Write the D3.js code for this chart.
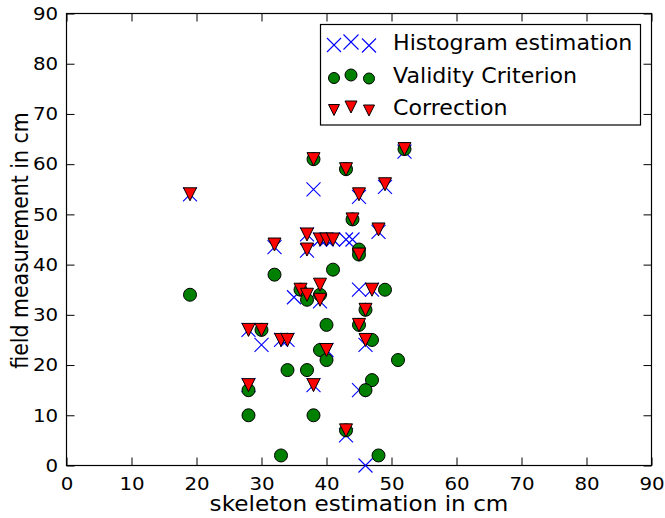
<!DOCTYPE html>
<html>
<head>
<meta charset="utf-8">
<script src="https://cdn.jsdelivr.net/npm/d3@7"></script>
<style>
  html, body { margin: 0; padding: 0; background: #fff; }
  svg { display: block; }
  text { font-family: "DejaVu Sans", sans-serif; fill: #000; }
</style>
</head>
<body>
<svg id="chart" width="665" height="518"></svg>
<script>
// ---- Data ----
const xTicks = [0, 10, 20, 30, 40, 50, 60, 70, 80, 90];
const yTicks = [0, 10, 20, 30, 40, 50, 60, 70, 80, 90];

// Histogram estimation (blue x)
const histX = [19, 28, 30, 33, 34, 28, 38, 43, 40, 46, 45, 47, 45, 46, 38, 45, 49, 52, 48, 32, 37, 37, 39, 40, 41, 43, 44, 35, 39];
const histY = [54, 27, 24, 25, 25, 16, 16, 6, 23, 24, 35, 35, 15, 0, 55, 53.5, 55.5, 62.5, 46.5, 43.5, 46, 42.8, 45, 45, 45, 45, 45, 33.5, 32.7];

// Validity Criterion (green circles)
const validX = [19, 28, 30, 28, 33, 34, 37, 38, 39, 40, 40, 43, 45, 46, 47, 51, 47, 46, 48, 49, 32, 41, 45, 45, 36, 37, 39, 44, 43, 38, 52];
const validY = [34, 15, 27, 10, 2, 19, 19, 10, 23, 21, 28, 7, 28, 31, 25, 21, 17, 15, 2, 35, 38, 39, 43, 42, 35, 33, 34, 49, 59, 61, 63];

// Correction (red triangles)
const corrX = [19, 28, 30, 33, 34, 28, 38, 43, 40, 45, 46, 46, 38, 43, 45, 49, 52, 44, 48, 32, 37, 37, 39, 40, 41, 45, 36, 37, 39, 39, 47];
const corrY = [54, 27, 27, 25, 25, 16, 16, 7, 23, 28, 31, 25, 61, 59, 54, 56, 63, 49, 47, 44, 46, 43, 45, 45, 45, 42, 35, 34, 36, 33, 35];

const legendLabels = ["Histogram estimation", "Validity Criterion", "Correction"];
const xLabel = "skeleton estimation in cm";
const yLabel = "field measurement in cm";

// ---- Layout ----
const svg = d3.select("#chart");
const L = 66.5, R = 651.5, T = 13.5, B = 465.5;
const SX = 1.1; // horizontal stretch of the reference glyphs

const x = d3.scaleLinear().domain([0, 90]).range([L, R]);
const y = d3.scaleLinear().domain([0, 90]).range([B, T]);

const tickFont = "18px";

// Axes (ticks inward)
const gB = svg.append("g").attr("transform", `translate(0,${B})`)
  .call(d3.axisBottom(x).tickValues(xTicks).tickSizeInner(-8).tickSizeOuter(0).tickPadding(11.5));
const gT = svg.append("g").attr("transform", `translate(0,${T})`)
  .call(d3.axisTop(x).tickValues(xTicks).tickSizeInner(-8).tickSizeOuter(0).tickFormat(""));
const gL = svg.append("g").attr("transform", `translate(${L},0)`)
  .call(d3.axisLeft(y).tickValues(yTicks).tickSizeInner(-8).tickSizeOuter(0).tickPadding(7.6));
const gR = svg.append("g").attr("transform", `translate(${R},0)`)
  .call(d3.axisRight(y).tickValues(yTicks).tickSizeInner(-8).tickSizeOuter(0).tickFormat(""));

[gB, gT, gL, gR].forEach(g => {
  g.select(".domain").remove();
  g.selectAll(".tick line").attr("stroke", "#000").attr("stroke-width", 1);
  g.selectAll(".tick text").style("font-family", "DejaVu Sans").style("font-size", tickFont)
    .attr("fill", "#000").attr("transform", `scale(${SX},1)`);
});

// Frame
svg.append("rect").attr("x", L).attr("y", T).attr("width", R - L).attr("height", B - T)
  .attr("fill", "none").attr("stroke", "#000").attr("stroke-width", 1.2);

// ---- Marks ----
const plot = svg.append("g");
const xs = 7; // half-size of x marker
const histData = histX.map((v, i) => ({x: v, y: histY[i]}));
const validData = validX.map((v, i) => ({x: v, y: validY[i]}));
const corrData = corrX.map((v, i) => ({x: v, y: corrY[i]}));

function xPath(h) { return `M${-h},${-h}L${h},${h}M${-h},${h}L${h},${-h}`; }
function triPath(h) { return `M${-h},${-h}L${h},${-h}L0,${h}Z`; }

plot.selectAll(".hx").data(histData).join("path")
  .attr("transform", d => `translate(${x(d.x)},${y(d.y)})`)
  .attr("d", xPath(xs)).attr("fill", "none").attr("stroke", "#0000ff").attr("stroke-width", 1.1);

plot.selectAll(".vc").data(validData).join("circle")
  .attr("cx", d => x(d.x)).attr("cy", d => y(d.y)).attr("r", 6.5)
  .attr("fill", "#008000").attr("stroke", "#000").attr("stroke-width", 1);

plot.selectAll(".ct").data(corrData).join("path")
  .attr("transform", d => `translate(${x(d.x)},${y(d.y)})`)
  .attr("d", triPath(6.5)).attr("fill", "#ff0000").attr("stroke", "#000").attr("stroke-width", 1);

// ---- Axis labels ----
svg.append("text").attr("transform", `translate(${(L + R) / 2},511) scale(1.13,1)`)
  .attr("text-anchor", "middle").style("font-size", "20.5px").text(xLabel);
svg.append("text").attr("transform", `translate(28,${(T + B) / 2 + 1}) rotate(-90) scale(1,${SX})`)
  .attr("text-anchor", "middle").style("font-size", "20.5px").text(yLabel);

// ---- Legend ----
const lg = svg.append("g");
lg.append("rect").attr("x", 320.5).attr("y", 24.5).attr("width", 320).attr("height", 100.5)
  .attr("fill", "#fff").attr("stroke", "#000").attr("stroke-width", 1.2);
const rowY = [43, 76, 108];
const offX = [334, 351, 369];
const offY = [2, -1, 2.5];
const lsz = [5.5, 6, 5.5];
legendLabels.forEach((lab, i) => {
  const gy = rowY[i];
  offX.forEach((ox, j) => {
    const tr = `translate(${ox},${gy + offY[j]})`;
    if (i === 0) {
      lg.append("path").attr("transform", tr).attr("d", xPath(lsz[j] + 1.5)).attr("fill", "none")
        .attr("stroke", "#0000ff").attr("stroke-width", 1.1);
    } else if (i === 1) {
      lg.append("circle").attr("transform", tr).attr("r", lsz[j]).attr("fill", "#008000")
        .attr("stroke", "#000").attr("stroke-width", 1);
    } else {
      lg.append("path").attr("transform", tr).attr("d", triPath(lsz[j])).attr("fill", "#ff0000")
        .attr("stroke", "#000").attr("stroke-width", 1);
    }
  });
  lg.append("text").attr("transform", `translate(393,${gy}) scale(1.08,1)`).attr("dy", "0.35em")
    .style("font-size", "20.5px").text(lab);
});
</script>
</body>
</html>
